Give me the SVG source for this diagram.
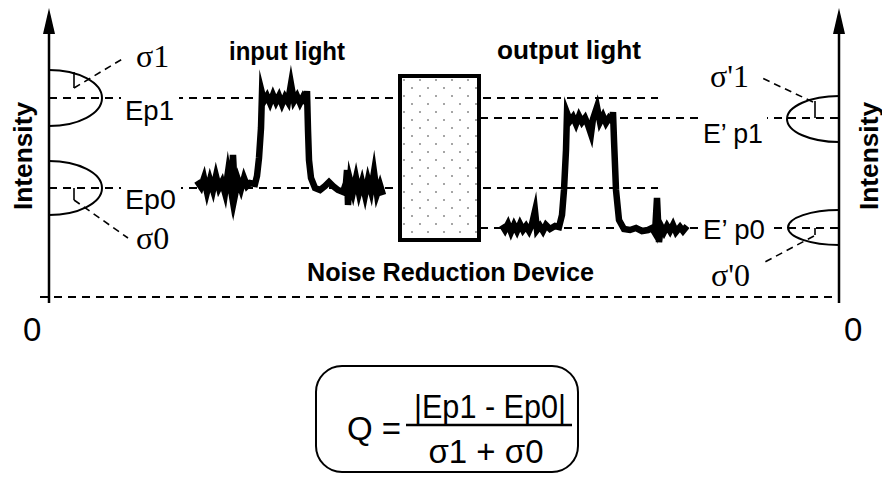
<svg xmlns="http://www.w3.org/2000/svg" width="882" height="478" viewBox="0 0 882 478">
<style>
.ax{stroke:#000;stroke-width:2.5;fill:none}
.dash{stroke:#000;stroke-width:2;stroke-dasharray:8 6;fill:none}
.lead{stroke:#000;stroke-width:1.6;stroke-dasharray:7 5;fill:none}
.tick{stroke:#000;stroke-width:1.6;fill:none}
.ell{stroke:#000;stroke-width:2;fill:none}
.sig{stroke:#000;stroke-width:6.5;fill:none;stroke-linejoin:miter;stroke-miterlimit:10}
.lbl{font-family:"Liberation Sans",Arial,sans-serif;font-size:28px;fill:#000}
.sg{font-family:"Liberation Serif","Times New Roman",serif;font-size:32px;fill:#000}
.bold{font-family:"Liberation Sans",Arial,sans-serif;font-weight:bold;font-size:25px;fill:#000}
.frm{font-family:"Liberation Sans",Arial,sans-serif;font-size:33px;fill:#000}
.mask{fill:#fff}
</style>
<defs>
<pattern id="dots" width="16" height="16" patternUnits="userSpaceOnUse" x="400" y="76">
<rect width="16" height="16" fill="#fff"/>
<circle cx="4" cy="4" r="1" fill="#888"/>
<circle cx="12" cy="12" r="1" fill="#888"/>
</pattern>
</defs>

<g id="connectors">
<line class="dash" x1="49" y1="98" x2="658" y2="98"/>
<line class="dash" x1="49" y1="188" x2="658" y2="188"/>
<line class="dash" x1="480" y1="118" x2="839" y2="118"/>
<line class="dash" x1="480" y1="228" x2="839" y2="228"/>
<line class="dash" x1="40" y1="297" x2="837" y2="297"/>
</g>

<g id="left-axis">
<line class="ax" x1="49" y1="30" x2="49" y2="303"/>
<polygon points="49,8 43,34 55,34" fill="#000"/>
<text class="bold" transform="translate(32,156) rotate(-90)" text-anchor="middle" font-size="26" textLength="108" lengthAdjust="spacingAndGlyphs">Intensity</text>
<text class="frm" x="23" y="341" font-size="34">0</text>
</g>

<g id="right-axis">
<line class="ax" x1="839" y1="30" x2="839" y2="303"/>
<polygon points="839,8 833,34 845,34" fill="#000"/>
<text class="bold" transform="translate(878,156) rotate(-90)" text-anchor="middle" font-size="26" textLength="108" lengthAdjust="spacingAndGlyphs">Intensity</text>
<text class="frm" x="844" y="341" font-size="34">0</text>
</g>

<g id="left-dist-1">
<path class="ell" d="M49,70 A53,28 0 0 1 49,126"/>
<line class="tick" x1="74" y1="72" x2="74" y2="88"/>
<line class="lead" x1="74" y1="88" x2="124" y2="58"/>
<text class="sg" x="136" y="67">σ1</text>
<rect class="mask" x="121" y="95" width="58" height="28"/>
<text class="lbl" x="125" y="120" textLength="49" lengthAdjust="spacingAndGlyphs">Ep1</text>
</g>

<g id="left-dist-0">
<path class="ell" d="M49,161 A53,27 0 0 1 49,215"/>
<line class="tick" x1="74" y1="188" x2="74" y2="200"/>
<line class="lead" x1="74" y1="200" x2="128" y2="238"/>
<text class="sg" x="136" y="249">σ0</text>
<rect class="mask" x="121" y="185" width="60" height="28"/>
<text class="lbl" x="125" y="209" textLength="51" lengthAdjust="spacingAndGlyphs">Ep0</text>
</g>

<g id="right-dist-1">
<path class="ell" d="M839,96 A52,23 0 0 0 839,142"/>
<line class="tick" x1="815" y1="101" x2="815" y2="118"/>
<line class="lead" x1="813" y1="102" x2="762" y2="78"/>
<text class="sg" x="710" y="87">σ'1</text>
<rect class="mask" x="699" y="115" width="68" height="32"/>
<text class="lbl" x="703" y="143" textLength="60" lengthAdjust="spacingAndGlyphs">E’ p1</text>
</g>

<g id="right-dist-0">
<path class="ell" d="M839,210 A51,17.5 0 0 0 839,245"/>
<line class="tick" x1="815" y1="228" x2="815" y2="235"/>
<line class="lead" x1="814" y1="236" x2="763" y2="263"/>
<text class="sg" x="711" y="286">σ'0</text>
<rect class="mask" x="699" y="216" width="70" height="25"/>
<text class="lbl" x="703" y="239" textLength="62" lengthAdjust="spacingAndGlyphs">E’ p0</text>
</g>

<g id="input-light">
<text class="bold" x="229" y="60" textLength="116" lengthAdjust="spacingAndGlyphs">input light</text>
<polyline class="sig" points="197,181 201,187 204,178 207,192 210,180 213,190 216,176 219,188 222,182 225,193 228,172 231,190 233,155 235,195 238,180 241,189 244,178 247,186 250,183 255,184 257,176 259,158 261,128 262,93 264,101 267,96 270,103 273,95 276,102 279,96 282,104 285,97 288,102 291,84 294,101 297,96 300,103 303,97 306,102 307,91 308,130 309,160 311,178 315,188 320,190 325,186 329,182 333,186 338,190 343,192 346,183 347,170 348,205 350,180 353,192 356,178 359,193 362,182 365,195 368,180 371,191 374,172 377,194 380,185 383,195"/>
</g>

<g id="noise-reduction-device">
<rect x="400" y="76" width="79" height="164" fill="url(#dots)" stroke="#000" stroke-width="4"/>
<text class="bold" x="307" y="281" textLength="287" lengthAdjust="spacingAndGlyphs">Noise Reduction Device</text>
</g>

<g id="output-light">
<text class="bold" x="497" y="59" textLength="144" lengthAdjust="spacingAndGlyphs">output light</text>
<polyline class="sig" points="502,225 505,230 508,224 511,232 514,225 517,231 520,224 523,230 526,226 529,231 532,224 535,211 537,230 540,226 543,231 546,225 550,229 555,226 559,227 562,215 564,190 566,150 567,113 570,121 573,117 576,124 579,116 582,122 585,118 588,125 591,134 593,119 597,107 600,122 603,116 606,123 609,118 612,121 613,112 614,140 616,190 619,220 624,229 630,230 636,228 642,231 648,230 652,228 655,233 657,198 659,242 661,226 664,232 667,226 670,231 673,225 676,232 680,227 683,231 687,226"/>
</g>

<g id="formula">
<rect x="316" y="366" width="262" height="106" rx="26" ry="26" fill="#fff" stroke="#000" stroke-width="2"/>
<text class="frm" x="347" y="440">Q =</text>
<line x1="406" y1="425" x2="572" y2="425" stroke="#000" stroke-width="2.5"/>
<text class="frm" x="490" y="418" text-anchor="middle" textLength="152" lengthAdjust="spacingAndGlyphs">|Ep1 - Ep0|</text>
<text class="frm" x="486" y="463" text-anchor="middle">σ1 + σ0</text>
</g>
</svg>
